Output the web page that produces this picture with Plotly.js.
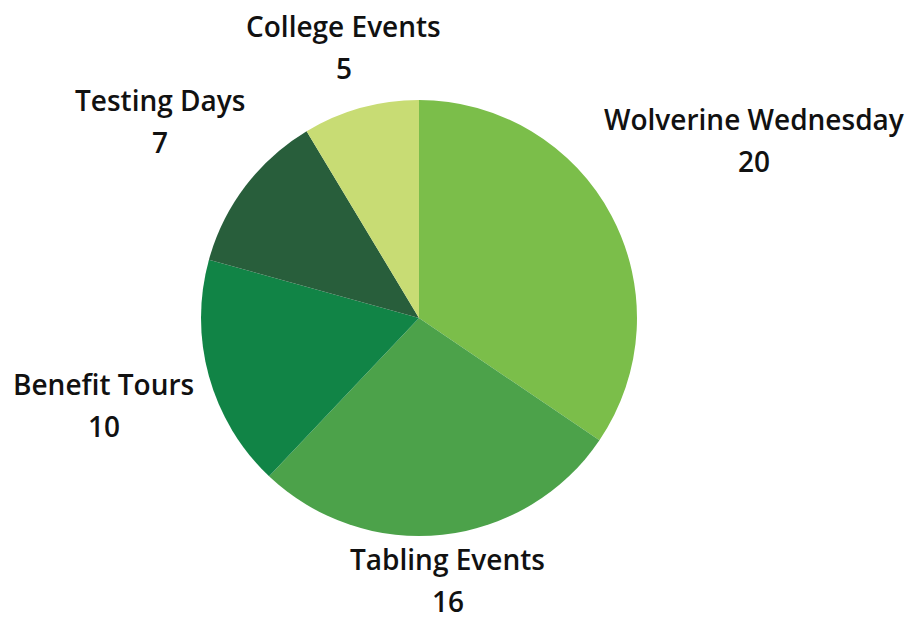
<!DOCTYPE html>
<html>
<head>
<meta charset="utf-8">
<script src="https://cdn.plot.ly/plotly-3.0.1.min.js"></script>
<style>html,body{margin:0;padding:0;background:#fff}#chart{width:909px;height:621px}</style>
</head>
<body>
<div id="chart"></div>
<script>
const categories = ["Wolverine Wednesday", "Tabling Events", "Benefit Tours", "Testing Days", "College Events"];
const values = [20, 16, 10, 7, 5];
const colors = ["#7BBE4A", "#4CA24A", "#118446", "#285E3B", "#C8DC74"];
const labelDist = [1.74, 1.21, 1.5, 1.49, 1.29];

const W = 909, H = 621;
const cx = 419, cy = 318, R = 218;
const dom = {
  x: [(cx - R) / W, (cx + R) / W],
  y: [(H - cy - R) / H, (H - cy + R) / H]
};
const total = values.reduce((a, b) => a + b, 0);
const font = {family: "'Open Sans', Roboto, sans-serif", size: 28, color: "#111", weight: 600};
const annotations = [];
let cum = 0;
values.forEach((v, i) => {
  const mid = (cum + v / 2) / total * 2 * Math.PI;
  cum += v;
  const d = labelDist[i] * R;
  const px = cx + d * Math.sin(mid);
  const py = cy - d * Math.cos(mid);
  annotations.push({text: categories[i], x: px / W, y: (H - py + 21) / H, xref: "paper", yref: "paper",
    showarrow: false, xanchor: "center", yanchor: "middle", font: font});
  annotations.push({text: String(v), x: px / W, y: (H - py - 21) / H, xref: "paper", yref: "paper",
    showarrow: false, xanchor: "center", yanchor: "middle", font: font});
});

Plotly.newPlot("chart", [{
  type: "pie",
  labels: categories,
  values: values,
  sort: false,
  direction: "clockwise",
  rotation: 0,
  marker: {colors: colors, line: {width: 0}},
  textinfo: "none",
  hoverinfo: "label+value",
  domain: dom
}], {
  width: W, height: H,
  margin: {l: 0, r: 0, t: 0, b: 0},
  showlegend: false,
  paper_bgcolor: "#fff",
  annotations: annotations
}, {displayModeBar: false, staticPlot: true});
</script>
</body>
</html>
